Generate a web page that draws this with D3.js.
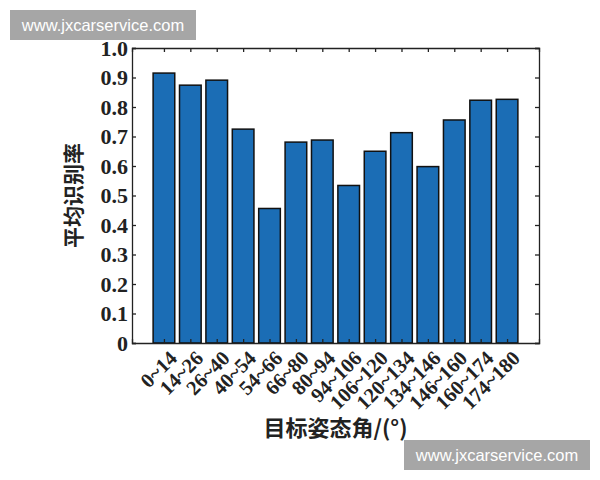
<!DOCTYPE html>
<html>
<head>
<meta charset="utf-8">
<script src="https://d3js.org/d3.v7.min.js"></script>
<style>
  body { margin: 0; background: #fff; }
  svg { display: block; }
</style>
</head>
<body>
<svg width="600" height="480" id="chart"></svg>
<script>
// angle bins and mean recognition rate
const categories = ["0~14", "14~26", "26~40", "40~54", "54~66", "66~80", "80~94",
  "94~106", "106~120", "120~134", "134~146", "146~160", "160~174", "174~180"];
const rates = [0.915, 0.874, 0.891, 0.725, 0.456, 0.681, 0.688,
  0.534, 0.650, 0.713, 0.598, 0.756, 0.823, 0.826];
const yTicks = [0, 0.1, 0.2, 0.3, 0.4, 0.5, 0.6, 0.7, 0.8, 0.9, 1.0];
const yTickLabels = ["0", "0.1", "0.2", "0.3", "0.4", "0.5", "0.6", "0.7", "0.8", "0.9", "1.0"];

const svg = d3.select("#chart");
const margin = {top: 48, right: 61, bottom: 137, left: 132},
  width = 600 - margin.left - margin.right,
  height = 480 - margin.top - margin.bottom;

const g = svg.append("g").attr("transform", "translate(" + margin.left + "," + margin.top + ")");
const serif = "'Liberation Serif', 'Times New Roman', serif";

let x = d3.scaleLinear()
  .domain([1 - 1.21, categories.length + 1.21])
  .range([0, width]);

let y = d3.scaleLinear()
  .domain([0, 1])
  .range([height, 0]);

const barW = x(0.82) - x(0);

g.selectAll(".bar")
  .data(rates)
  .enter().append("rect")
  .attr("class", "bar")
  .attr("x", (d, i) => x(i + 1) - barW / 2)
  .attr("y", d => y(d))
  .attr("width", barW)
  .attr("height", d => height - y(d))
  .attr("fill", "#1b6db5")
  .attr("stroke", "#111")
  .attr("stroke-width", 1.5);

const idx = d3.range(1, categories.length + 1);

// bottom axis with rotated labels
const xAxis = g.append("g")
  .attr("transform", "translate(0," + height + ")")
  .call(d3.axisBottom(x).tickValues(idx).tickSize(-4).tickFormat(i => categories[i - 1]));
xAxis.selectAll("text")
  .attr("transform", "rotate(-45)")
  .attr("text-anchor", "end")
  .attr("dx", "-0.1em")
  .attr("dy", "0.9em")
  .style("font-family", serif)
  .style("font-size", "20.5px")
  .style("font-weight", "bold")
  .attr("fill", "#222");

// top axis mirror
g.append("g")
  .call(d3.axisTop(x).tickValues(idx).tickSize(-4).tickFormat(""));

// left axis
const yAxis = g.append("g")
  .call(d3.axisLeft(y).tickValues(yTicks).tickSize(-4).tickPadding(4)
    .tickFormat((d, i) => yTickLabels[i]));
yAxis.selectAll("text")
  .style("font-family", serif)
  .style("font-size", "22px")
  .style("font-weight", "bold")
  .attr("fill", "#222");

// right axis mirror
g.append("g")
  .attr("transform", "translate(" + width + ",0)")
  .call(d3.axisRight(y).tickValues(yTicks).tickSize(-4).tickFormat(""));

g.selectAll(".domain").attr("stroke", "#222").attr("stroke-width", 1.3);
g.selectAll(".tick line").attr("stroke", "#222").attr("stroke-width", 1.3);

// axis titles
g.append("text")
  .attr("x", width / 2)
  .attr("y", height + 93)
  .attr("text-anchor", "middle")
  .style("font-family", "'Noto Sans CJK SC', sans-serif")
  .style("font-size", "22px")
  .style("font-weight", "bold")
  .attr("fill", "#222")
  .text("目标姿态角/(°)");

g.append("text")
  .attr("transform", "translate(" + (-51) + "," + (height / 2) + ") rotate(-90)")
  .attr("text-anchor", "middle")
  .style("font-family", "'Noto Sans CJK SC', sans-serif")
  .style("font-size", "21px")
  .style("font-weight", "bold")
  .attr("fill", "#222")
  .text("平均识别率");

// watermarks
const marks = [{x: 10, y: 10, w: 186, h: 30}, {x: 404, y: 440, w: 186, h: 30}];
marks.forEach(m => {
  svg.append("rect")
    .attr("x", m.x).attr("y", m.y).attr("width", m.w).attr("height", m.h)
    .attr("fill", "#a6a6a6");
  svg.append("text")
    .attr("x", m.x + m.w / 2).attr("y", m.y + m.h / 2)
    .attr("text-anchor", "middle")
    .attr("dy", "0.35em")
    .style("font-family", "'Liberation Sans', Arial, sans-serif")
    .style("font-size", "16.5px")
    .attr("fill", "#fff")
    .text("www.jxcarservice.com");
});
</script>
</body>
</html>
